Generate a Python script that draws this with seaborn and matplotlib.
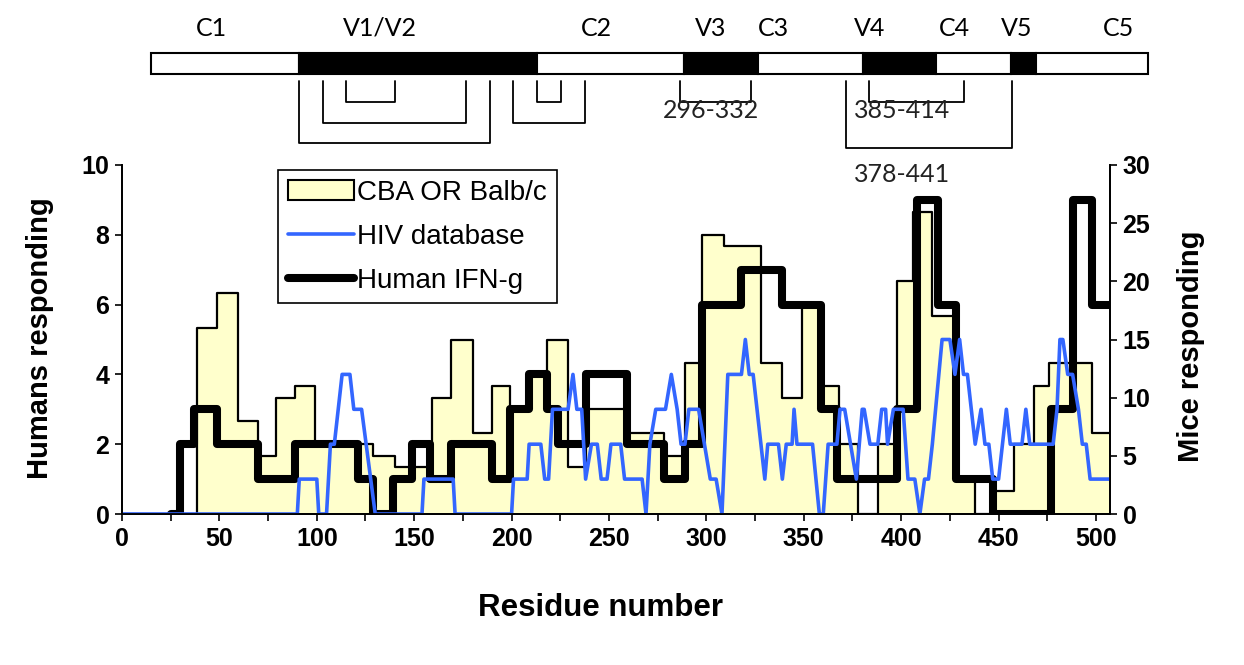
import numpy as np
import pandas as pd
import matplotlib
matplotlib.use('Agg')
import matplotlib.pyplot as plt
import seaborn as sns
from matplotlib.patches import Rectangle, Patch
from matplotlib.lines import Line2D

# mice responding (CBA OR Balb/c) - step change points, right axis
mice_x = [0, 38.5, 49, 59.5, 70, 79, 89, 99, 129, 140, 159, 169, 180, 190, 199, 208,
          218, 229, 238, 259, 278, 289, 298, 309, 328, 339, 349, 359, 368, 378, 388,
          398, 406, 416, 427, 438, 447, 458, 468, 476, 498, 507]
mice_n = [0, 16, 19, 8, 5, 10, 11, 6, 5, 4, 10, 15, 7, 11, 9, 12,
          15, 4, 9, 7, 5, 13, 24, 23, 13, 10, 18, 11, 6, 0, 6,
          20, 26, 17, 3, 0, 2, 6, 11, 13, 7, 7]

# HIV database epitopes - line vertices, left axis
hiv_x = [0, 90, 91, 100, 101, 105, 107, 109, 113, 117,
         119, 123, 130, 154, 155, 170, 171, 200, 201, 208,
         209, 215, 217, 219, 221, 229, 231.5, 233.5, 236, 238,
         241, 244, 246, 249, 251, 256, 258, 267, 269, 271,
         274, 279, 282, 285, 287, 289, 291, 296, 299, 302,
         305, 308, 311, 318, 320, 322, 324, 328, 330, 331.5,
         337, 339, 341, 344, 345, 346.5, 354.5, 358, 360, 362.5,
         367, 368.6, 371, 377, 380, 381, 384, 388, 390, 392,
         393, 396, 401, 403.5, 407, 409.6, 412, 414, 416, 421,
         425, 427.6, 430, 432, 434, 438, 441, 443, 445, 447,
         450, 452, 454, 456, 462, 464, 466, 478, 480, 481.5,
         483, 485.5, 488, 491, 493, 495, 497, 507]
hiv_n = [0, 0, 1, 1, 0, 0, 2, 2, 4, 4,
         3, 3, 0, 0, 1, 1, 0, 0, 1, 1,
         2, 2, 1, 1, 3, 3, 4, 3, 3, 1,
         2, 2, 1, 1, 2, 2, 1, 1, 0, 2,
         3, 3, 4, 3, 2, 2, 3, 3, 2, 1,
         1, 0, 4, 4, 5, 4, 4, 2, 1, 2,
         2, 1, 2, 2, 3, 2, 2, 0, 0, 2,
         2, 3, 3, 1, 3, 3, 2, 2, 3, 3,
         2, 3, 3, 1, 1, 0, 1, 1, 2, 5,
         5, 4, 5, 4, 4, 2, 3, 2, 2, 1,
         1, 2, 3, 2, 2, 3, 2, 2, 3, 5,
         5, 4, 4, 3, 2, 2, 1, 1]

# human IFN-g responses - step change points, left axis
ifn_x = [25, 30, 37, 49, 70, 89, 121, 129, 139, 149, 158, 169, 190, 199, 209, 218,
         224, 238, 259, 278, 289, 298, 318, 339, 359, 367, 398, 408, 419, 428, 447,
         477, 488, 498, 507]
ifn_n = [0, 2, 3, 2, 1, 2, 1, 0, 1, 2, 1, 2, 1, 3, 4, 3,
         2, 4, 2, 1, 2, 6, 7, 6, 3, 1, 3, 9, 6, 1, 0,
         3, 9, 6, 6]

# envelope schematic (drawn in figure pixels)
region_edges = [151, 299, 537, 684, 758, 863, 936, 1011, 1036, 1148]
region_dark = [False, True, False, True, False, True, False, True, False]
region_names = ['C1', 'V1/V2', 'C2', 'V3', 'C3', 'V4', 'C4', 'V5', 'C5']
region_name_x = [211, 380, 596, 711, 773, 870, 954, 1017, 1118]
# brackets: left, right, bottom
brackets = [(299, 490, 143), (323, 466, 123), (346, 395, 102), (513, 585, 123),
            (537, 561, 102), (680, 751, 102), (869, 964, 102), (846, 1012, 148)]
bracket_labels = ['296-332', '385-414', '378-441']
bracket_label_pos = [(711, 111), (902, 111), (902, 174)]

sns.set_style('ticks')
plt.rcParams['font.family'] = ['Liberation Sans', 'DejaVu Sans']
plt.rcParams['text.color'] = 'black'
plt.rcParams['axes.labelcolor'] = 'black'

W, H = 1244, 665
fig = plt.figure(figsize=(W / 100, H / 100), dpi=100)

# main chart
ax1 = fig.add_axes([122 / W, 151 / H, 988 / W, 349 / H])
ax2 = ax1.twinx()
ax1.set_zorder(ax2.get_zorder() + 1)
ax1.patch.set_visible(False)

# mice area on the right axis
ax2.fill_between(mice_x, mice_n, step='post', color='#FFFFCC', lw=0)
sns.lineplot(x=mice_x, y=mice_n, drawstyle='steps-post', color='black', lw=1.6,
             ax=ax2, sort=False)

# human IFN-g and HIV database on the left axis
sns.lineplot(x=ifn_x, y=ifn_n, drawstyle='steps-post', color='black', lw=5.8,
             ax=ax1, sort=False, solid_joinstyle='round', solid_capstyle='round')
sns.lineplot(x=hiv_x, y=hiv_n, color='#3366FF', lw=2.6, ax=ax1, sort=False)

ax1.set_xlim(0, 507.2)
ax1.set_ylim(0, 10)
ax2.set_ylim(0, 30)
ax1.set_xticks(np.arange(0, 501, 25))
ax1.set_xticklabels([str(t) if t % 50 == 0 else '' for t in range(0, 501, 25)])
ax1.set_yticks(range(0, 11, 2))
ax2.set_yticks(range(0, 31, 5))

for a in (ax1, ax2):
    a.spines['top'].set_visible(False)
    for s in ('left', 'right', 'bottom'):
        a.spines[s].set_linewidth(1.3)
        a.spines[s].set_color('black')
    a.tick_params(labelsize=18, length=5, width=1.2, colors='black', pad=4)
    for t in a.get_xticklabels() + a.get_yticklabels():
        t.set_fontweight('bold')

ax1.set_xlabel('Residue number', fontsize=22.5, fontweight='bold')
ax1.set_ylabel('Humans responding', fontsize=21, fontweight='bold')
ax2.set_ylabel('Mice responding', fontsize=21, fontweight='bold')
ax1.xaxis.set_label_coords(0.484, -0.226)
ax1.yaxis.set_label_coords(-0.069, 0.505)
ax2.yaxis.set_label_coords(1.068, 0.48)

handles = [Patch(facecolor='#FFFFCC', edgecolor='black', lw=1.5),
           Line2D([], [], color='#3366FF', lw=2.6),
           Line2D([], [], color='black', lw=5.8, solid_capstyle='round')]
leg = ax1.legend(handles, ['CBA OR Balb/c', 'HIV database', 'Human IFN-g'],
                 loc='upper left', bbox_to_anchor=(0.158, 0.986), fontsize=20,
                 frameon=True, fancybox=False, framealpha=1, edgecolor='black',
                 handlelength=2.4, handletextpad=0.1, borderpad=0.35,
                 labelspacing=0.65, borderaxespad=0)
leg.get_frame().set_linewidth(1.2)

# envelope schematic on top
top = fig.add_axes([0, 0, 1, 1], zorder=5)
top.set_xlim(0, W)
top.set_ylim(H, 0)
top.axis('off')
top.patch.set_visible(False)
for i, dark in enumerate(region_dark):
    x0, x1 = region_edges[i], region_edges[i + 1]
    top.add_patch(Rectangle((x0, 53), x1 - x0, 21, facecolor='black' if dark else 'white',
                            edgecolor='black', lw=1.5))
for name, x in zip(region_names, region_name_x):
    top.text(x, 28, name, ha='center', va='center', fontsize=18, family='Lato')
for x0, x1, yb in brackets:
    top.plot([x0, x0, x1, x1], [81, yb, yb, 81], color='black', lw=1.3)
for lab, (x, y) in zip(bracket_labels, bracket_label_pos):
    top.text(x, y, lab, ha='center', va='center', fontsize=18, family='Lato',
             color='#222222')

fig.savefig('out.png', dpi=100)
